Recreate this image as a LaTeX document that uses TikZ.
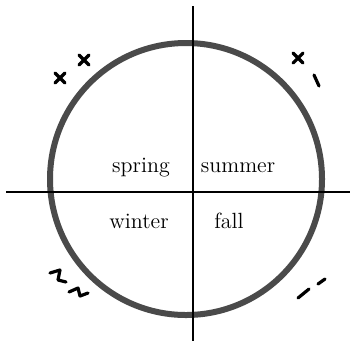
\documentclass[tikz,border=0pt]{standalone}
\usepackage{xcolor}
\usepackage{tikz}
\usetikzlibrary{positioning, calc}
\definecolor{rimgray}{HTML}{4A4A4A}

\begin{document}
\begin{tikzpicture}[
  x=0.5pt, y=-0.5pt,
  every node/.style={font=\fontsize{11}{13}\selectfont},
  season/.style={anchor=base, inner sep=0pt},
  rim/.style={draw=rimgray, line width=3pt},
  axis/.style={draw=black, line width=1pt},
  scrib/.style={draw=black, line width=1.6pt, line cap=round, line join=round},
]
  \useasboundingbox (0,0) rectangle (351,343);

  % axes and the year circle
  \coordinate (o) at (186,179);
  \coordinate (west) at (6,192);
  \coordinate (east) at (350,192);
  \coordinate (north) at (193,6);
  \coordinate (south) at (193,341);
  \draw[rim] (o) circle (68pt);
  \draw[axis] (west) -- (east);
  \draw[axis] (north) -- (south);

  % the four seasons
  \node[season] (spring) at (141,172) {spring};
  \node[season] (summer) at (238,172) {summer};
  \node[season] (winter) at (139,228) {winter};
  \node[season] (fall)   at (229,228) {fall};

  % marks round the circle
  \foreach \cx/\cy in {60/78, 84/60, 298/58}
    \draw[scrib] (\cx-5,\cy-5) -- (\cx+5,\cy+5) (\cx-5,\cy+5) -- (\cx+5,\cy-5);
  \draw[scrib] (314,75) -- (319,86);
  \draw[scrib] (298,298) -- (309,289);
  \draw[scrib] (318,284) -- (325,279);
  \draw[scrib] (50,273) -- (60,270) -- (58,280) -- (66,282);
  \draw[scrib] (69,292) -- (78,288) -- (80,296) -- (88,293);
\end{tikzpicture}
\end{document}
